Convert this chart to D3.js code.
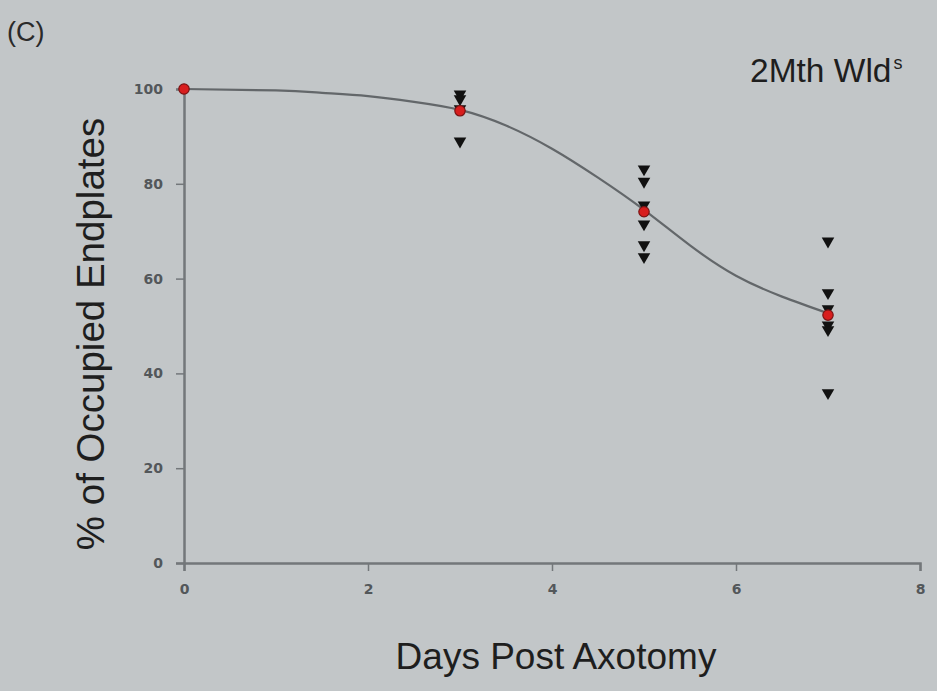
<!DOCTYPE html>
<html>
<head>
<meta charset="utf-8">
<script src="https://cdn.jsdelivr.net/npm/d3@7"></script>
<style>
  html, body { margin: 0; padding: 0; background: #c2c6c8; }
  #chart { width: 937px; height: 691px; }
</style>
</head>
<body>
<div id="chart"></div>
<script>
// 데이터
var xTicks = [0, 2, 4, 6, 8];
var yTicks = [0, 20, 40, 60, 80, 100];

var day3Values = [98.9, 97.9, 95.8, 89.0];
var day5Values = [83.1, 80.5, 75.5, 71.5, 67.1, 64.6];
var day7Values = [67.9, 57.0, 53.6, 50.2, 49.2, 35.9];

var meanDays = [0, 3, 5, 7];
var meanValues = [100, 95.4, 74.1, 52.3];

var fitDays = [0, 1, 1.5, 2, 2.5, 3, 3.5, 4, 4.5, 5, 5.5, 6, 6.5, 7];
var fitValues = [100, 99.7, 99.2, 98.5, 97.3, 95.6, 92.3, 87.4, 81.3, 74.5, 67.0, 60.6, 56.2, 52.7];

function makeChart(div_id, pWidth, pHeight) {
	var svg = d3.select("#" + div_id).append("svg")
		.attr("width", pWidth)
		.attr("height", pHeight)
		.style("font-family", "'Liberation Sans', Arial, sans-serif");

	// 축 스케일
	var x = d3.scaleLinear().domain([0, 8]).range([184, 920]);
	var y = d3.scaleLinear().domain([0, 100]).range([563, 89]);

	var axisColor = "#73777a";

	// x축
	var xAxis = svg.append("g")
		.attr("transform", "translate(0," + y(0) + ")")
		.call(d3.axisBottom(x).tickValues(xTicks).tickSize(8).tickPadding(13));
	xAxis.select(".domain").attr("stroke", axisColor).attr("stroke-width", 2.5);
	xAxis.selectAll(".tick line").attr("stroke", axisColor).attr("stroke-width", 1.5);
	xAxis.selectAll(".tick text")
		.attr("fill", "#53575a").attr("font-size", 14).attr("font-weight", "bold")
		.style("font-family", "'DejaVu Sans', sans-serif");

	// y축
	var yAxis = svg.append("g")
		.attr("transform", "translate(" + x(0) + ",0)")
		.call(d3.axisLeft(y).tickValues(yTicks).tickSize(8).tickPadding(13));
	yAxis.select(".domain").attr("stroke", axisColor).attr("stroke-width", 2.5);
	yAxis.selectAll(".tick line").attr("stroke", axisColor).attr("stroke-width", 1.5);
	yAxis.selectAll(".tick text")
		.attr("fill", "#53575a").attr("font-size", 14).attr("font-weight", "bold")
		.style("font-family", "'DejaVu Sans', sans-serif");

	// 피팅 곡선
	var fitData = fitDays.map(function(d, i) { return { day: d, value: fitValues[i] }; });
	var line = d3.line()
		.x(function(d) { return x(d.day); })
		.y(function(d) { return y(d.value); })
		.curve(d3.curveNatural);
	svg.append("path")
		.datum(fitData)
		.attr("d", line)
		.attr("fill", "none")
		.attr("stroke", "#63676a")
		.attr("stroke-width", 2.2);

	// 개별 값 (삼각형)
	var points = [];
	[[3, day3Values], [5, day5Values], [7, day7Values]].forEach(function(s) {
		s[1].forEach(function(v) { points.push({ day: s[0], value: v }); });
	});
	var tri = d3.symbol().type(d3.symbolTriangle).size(68);
	svg.append("g").selectAll("path")
		.data(points)
		.enter().append("path")
		.attr("d", tri)
		.attr("fill", "#111")
		.attr("transform", function(d) { return "translate(" + x(d.day) + "," + y(d.value) + ") rotate(180)"; });

	// 평균값 (빨간 점)
	var means = meanDays.map(function(d, i) { return { day: d, value: meanValues[i] }; });
	svg.append("g").selectAll("circle")
		.data(means)
		.enter().append("circle")
		.attr("cx", function(d) { return x(d.day); })
		.attr("cy", function(d) { return y(d.value); })
		.attr("r", 5.2)
		.attr("fill", "#d81e1e")
		.attr("stroke", "#7a1414")
		.attr("stroke-width", 1.2);

	// 라벨
	svg.append("text")
		.attr("x", 7).attr("y", 41)
		.attr("font-size", 27)
		.attr("fill", "#2a2a2a")
		.text("(C)");

	var title = svg.append("text")
		.attr("x", 750).attr("y", 82)
		.attr("font-size", 33.5)
		.attr("fill", "#1e1e1e");
	title.append("tspan").text("2Mth Wld");
	title.append("tspan").attr("font-size", 18).attr("dx", 2).attr("dy", -13).text("s");

	svg.append("text")
		.attr("x", 556).attr("y", 669)
		.attr("text-anchor", "middle")
		.attr("font-size", 37)
		.attr("fill", "#1e1e1e")
		.text("Days Post Axotomy");

	svg.append("text")
		.attr("transform", "translate(104,334) rotate(-90)")
		.attr("text-anchor", "middle")
		.attr("font-size", 38.5)
		.attr("fill", "#1e1e1e")
		.text("% of Occupied Endplates");
}

makeChart("chart", 937, 691);
</script>
</body>
</html>
